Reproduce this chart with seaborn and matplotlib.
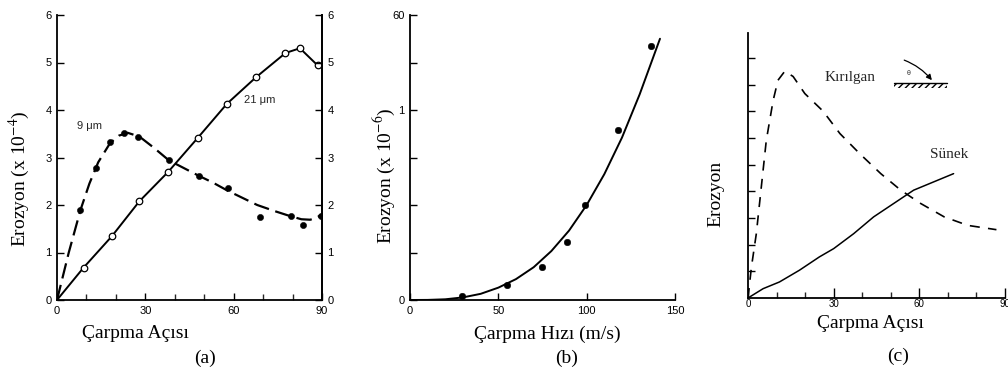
import matplotlib
matplotlib.use('Agg')
import matplotlib.pyplot as plt
import seaborn as sns
import pandas as pd
from matplotlib.patches import Rectangle

sns.set_theme(style='ticks')
plt.rcParams['font.family'] = ['Liberation Sans', 'DejaVu Sans']
plt.rcParams['mathtext.fontset'] = 'stix'

# (a) erosion vs impact angle, two particle sizes
a21_angle = [0, 9, 18.6, 28, 37.8, 47.9, 57.7, 67.6, 77.6, 82.5, 88.5]
a21_eros = [0, 0.68, 1.34, 2.08, 2.7, 3.42, 4.13, 4.69, 5.2, 5.3, 4.94]
a9_angle = [7.9, 13.3, 18, 22.8, 27.6, 38.1, 48.3, 58, 69, 79.5, 83.7, 89.6]
a9_eros = [1.9, 2.77, 3.33, 3.52, 3.44, 2.94, 2.62, 2.35, 1.74, 1.77, 1.58, 1.77]
a9_curve_angle = [0, 4, 8, 11, 14, 18, 21, 24, 28, 33, 38, 43, 48, 53, 58, 63, 68, 74, 79, 83, 86, 88, 90]
a9_curve_eros = [0, 1.0, 1.9, 2.45, 2.9, 3.3, 3.46, 3.52, 3.44, 3.2, 2.94, 2.78, 2.62, 2.47, 2.3, 2.15, 2.0, 1.87, 1.77, 1.7, 1.69, 1.73, 1.8]

# (b) erosion vs impact velocity
b_vel = [29.2, 54.7, 74.5, 89, 99, 118, 136.4]
b_eros = [0.84, 3.2, 7.0, 12.3, 20.0, 35.8, 53.5]
b_curve_vel = [0, 10, 20, 30, 40, 50, 60, 70, 80, 90, 100, 110, 120, 130, 141.5]
b_curve_eros = [0, 0.02, 0.15, 0.55, 1.3, 2.6, 4.4, 6.9, 10.3, 14.6, 20, 26.5, 34.2, 43.3, 55]

# (c) schematic: brittle vs ductile
c_brittle_angle = [0, 1.2, 2.9, 4.7, 6.4, 8.8, 10.5, 12.9, 15.8, 19.9, 26.3, 32.2, 39.2, 46.5, 53.5, 60.5, 68.7, 77, 87]
c_brittle_eros = [0, 1.16, 2.4, 4.2, 5.9, 7.4, 8.16, 8.5, 8.3, 7.66, 7.0, 6.16, 5.4, 4.66, 4.04, 3.54, 3.04, 2.72, 2.56]
c_ductile_angle = [0, 5.3, 11, 18, 25, 30, 37, 44, 51, 58, 65, 72]
c_ductile_eros = [0, 0.35, 0.6, 1.04, 1.54, 1.85, 2.41, 3.04, 3.54, 4.04, 4.35, 4.66]

W, H = 1008, 383
fig = plt.figure(figsize=(W / 100, H / 100), dpi=100)
fig.patch.set_facecolor('white')

def box(l, r, b, t):
    return [l / W, 1 - b / H, (r - l) / W, (b - t) / H]

serif = ['Liberation Serif', 'DejaVu Serif']
lab = dict(family=serif, fontsize=14, color='black')

def ftext(x, y, s, **kw):
    fig.text(x / W, 1 - y / H, s, ha='center', va='center', **kw)

def style(ax, pad=4, size=8):
    ax.set_facecolor('white')
    ax.tick_params(direction='in', length=5, width=1, labelsize=size, colors='black', pad=pad)
    ax.tick_params(which='minor', direction='in', length=4, width=1)
    for s in ax.spines.values():
        s.set_color('black')
        s.set_linewidth(1.3)
    ax.set_xlabel('')
    ax.set_ylabel('')

# ---- (a)
ax1 = fig.add_axes(box(57, 322, 300, 15))
sns.lineplot(x=a21_angle, y=a21_eros, ax=ax1, color='black', lw=1.4, sort=False)
sns.scatterplot(x=a21_angle[1:], y=a21_eros[1:], ax=ax1, marker='o', s=22,
                facecolor='white', edgecolor='black', linewidth=0.9, zorder=3)
sns.lineplot(x=a9_curve_angle, y=a9_curve_eros, ax=ax1, color='black', lw=1.6,
             sort=False, linestyle=(0, (7, 3)))
sns.scatterplot(x=a9_angle, y=a9_eros, ax=ax1, color='black', s=20, edgecolor='black', zorder=3)
ax1.set_xlim(0, 90)
ax1.set_ylim(0, 6)
ax1.set_xticks([0, 30, 60, 90])
ax1.set_xticks(range(0, 91, 10), minor=True)
ax1.set_yticks(range(0, 7))
ax1.spines['top'].set_visible(False)
style(ax1)
ax1r = ax1.twinx()
ax1r.set_ylim(0, 6)
ax1r.set_yticks(range(0, 7))
style(ax1r)
ax1r.spines['top'].set_visible(False)
ax1r.spines['left'].set_visible(False)
ax1r.spines['bottom'].set_visible(False)
ax1.text(11, 3.66, '9 μm', fontsize=8, ha='center', va='center')
ax1.text(69, 4.22, '21 μm', fontsize=8, ha='center', va='center')
ftext(19, 179, 'Erozyon (x 10$^{-4}$)', rotation=90, **lab)
ftext(135, 334, 'Çarpma Açısı', **lab)
ftext(205, 358, '(a)', **lab)

# ---- (b)
ax2 = fig.add_axes(box(410, 675, 300, 15))
sns.lineplot(x=b_curve_vel, y=b_curve_eros, ax=ax2, color='black', lw=1.4, sort=False)
sns.scatterplot(x=b_vel, y=b_eros, ax=ax2, color='black', s=22, edgecolor='black', zorder=3)
ax2.set_xlim(0, 150)
ax2.set_ylim(0, 60)
ax2.set_xticks([0, 50, 100, 150])
ax2.set_yticks(range(0, 61, 10))
ax2.set_yticklabels(['0', '', '', '', '1', '', '60'])
ax2.set_xticklabels(['0', '50', '100', '150'])
sns.despine(ax=ax2)
style(ax2)
ftext(384, 176, 'Erozyon (x 10$^{-6}$)', rotation=90, **lab)
ftext(547, 334, 'Çarpma Hızı (m/s)', **lab)
ftext(567, 358, '(b)', **lab)

# ---- (c)
ax3 = fig.add_axes(box(748, 1005, 298, 33))
sns.lineplot(x=c_brittle_angle, y=c_brittle_eros, ax=ax3, color='black', lw=1.2,
             sort=False, linestyle=(0, (6, 5)))
sns.lineplot(x=c_ductile_angle, y=c_ductile_eros, ax=ax3, color='black', lw=1.1, sort=False)
ax3.set_xlim(0, 90)
ax3.set_ylim(0, 9.93)
ax3.set_xticks([0, 30, 60, 90])
ax3.set_xticks(range(0, 91, 10), minor=True)
ax3.set_yticks(range(1, 10))
ax3.set_yticklabels([])
sns.despine(ax=ax3)
style(ax3, pad=1, size=7)
ax3.tick_params(axis='x', which='major', length=7)
ax3.text(35.7, 8.25, 'Kırılgan', family=serif, fontsize=11, ha='center', va='center')
ax3.text(70.4, 5.36, 'Sünek', family=serif, fontsize=11, ha='center', va='center')
# small inset: particle striking a surface at angle
ax3.plot([51, 69.6], [8.04, 8.04], color='black', lw=1.0, clip_on=False)
ax3.add_patch(Rectangle((51, 7.86), 18.6, 0.18, fill=False, hatch='/////', lw=0,
                        edgecolor='black', clip_on=False))
ax3.annotate('', xy=(65, 8.08), xytext=(53.8, 8.95),
             arrowprops=dict(arrowstyle='-|>', color='black', lw=0.9,
                             connectionstyle='arc3,rad=-0.15', mutation_scale=8))
ax3.text(56.2, 8.4, 'θ', fontsize=5, ha='center', va='center')
ftext(716, 194, 'Erozyon', rotation=90, **lab)
ftext(870, 324, 'Çarpma Açısı', **lab)
ftext(898, 356, '(c)', **lab)

fig.savefig('out.png', dpi=100, facecolor='white')
